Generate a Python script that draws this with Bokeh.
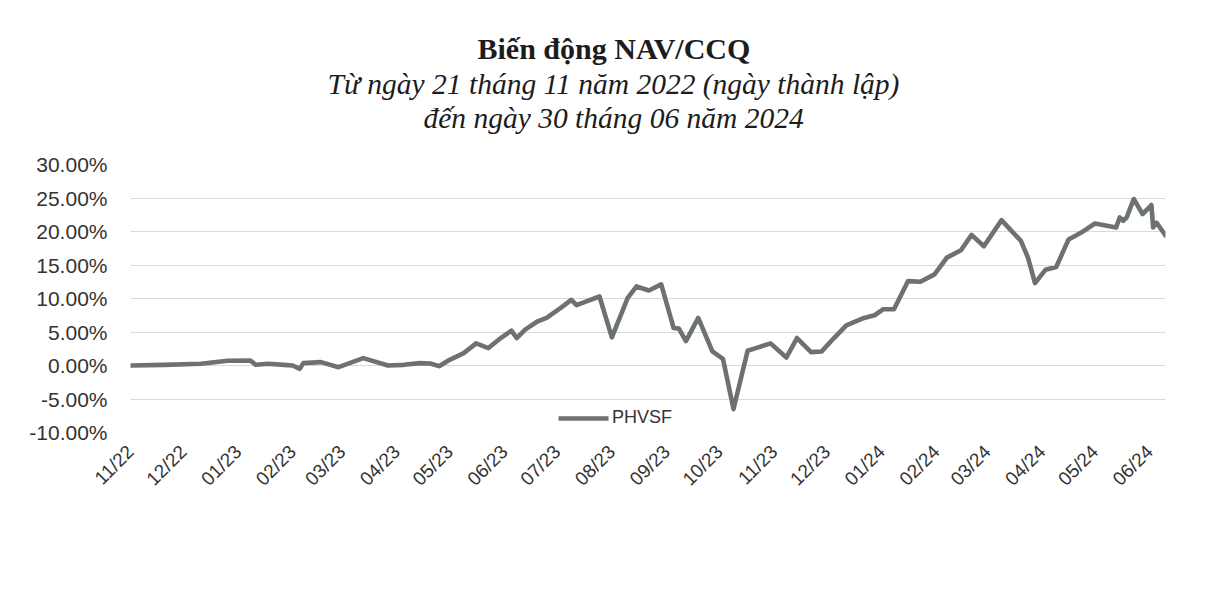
import datetime as dt
from bokeh.plotting import figure
from bokeh.models import (Range1d, FixedTicker, NumeralTickFormatter, Title,
                          Legend, LegendItem, ColumnDataSource)
from bokeh.embed import file_html
from bokeh.resources import INLINE

# ---- data ----
dates = [
    "2022-11-21", "2022-12-10", "2022-12-31", "2023-01-15", "2023-01-28", "2023-01-31",
    "2023-02-07", "2023-02-16", "2023-02-21", "2023-02-25", "2023-02-27", "2023-03-09",
    "2023-03-19", "2023-04-02", "2023-04-16", "2023-04-25", "2023-05-04", "2023-05-10",
    "2023-05-15", "2023-05-21", "2023-05-29", "2023-06-05", "2023-06-12", "2023-06-19",
    "2023-06-25", "2023-06-28", "2023-07-03", "2023-07-10", "2023-07-15", "2023-07-23",
    "2023-07-29", "2023-08-01", "2023-08-07", "2023-08-14", "2023-08-21", "2023-08-30",
    "2023-09-04", "2023-09-11", "2023-09-18", "2023-09-25", "2023-09-28", "2023-10-02",
    "2023-10-09", "2023-10-17", "2023-10-23", "2023-10-29", "2023-11-06", "2023-11-12",
    "2023-11-19", "2023-11-28", "2023-12-04", "2023-12-12", "2023-12-18", "2023-12-25",
    "2024-01-01", "2024-01-11", "2024-01-17", "2024-01-22", "2024-01-28", "2024-02-05",
    "2024-02-12", "2024-02-20", "2024-02-27", "2024-03-06", "2024-03-12", "2024-03-19",
    "2024-03-29", "2024-04-09", "2024-04-13", "2024-04-17", "2024-04-23", "2024-04-29",
    "2024-05-06", "2024-05-13", "2024-05-21", "2024-06-02", "2024-06-04", "2024-06-06",
    "2024-06-08", "2024-06-12", "2024-06-17", "2024-06-22", "2024-06-23", "2024-06-25",
    "2024-06-30",
]
phvsf_pct = [
    0.0, 0.1, 0.25, 0.7, 0.75, 0.1,
    0.25, 0.1, 0.0, -0.5, 0.35, 0.5,
    -0.25, 1.1, 0.0, 0.1, 0.35, 0.3,
    -0.1, 0.85, 1.85, 3.3, 2.6, 4.1,
    5.2, 4.1, 5.4, 6.6, 7.1, 8.6,
    9.8, 9.0, 9.6, 10.3, 4.2, 10.1,
    11.8, 11.2, 12.1, 5.6, 5.5, 3.65,
    7.1, 2.1, 1.0, -6.5, 2.2, 2.7,
    3.3, 1.2, 4.1, 2.0, 2.1, 4.1,
    6.0, 7.1, 7.5, 8.4, 8.4, 12.6,
    12.5, 13.6, 16.1, 17.2, 19.5, 17.8,
    21.7, 18.6, 16.1, 12.3, 14.3, 14.7,
    18.8, 19.8, 21.2, 20.6, 22.1, 21.6,
    22.1, 24.85, 22.6, 23.95, 20.6, 21.3,
    19.4,
]
tick_dates = [
    "2022-11-21", "2022-12-21", "2023-01-21", "2023-02-21", "2023-03-21", "2023-04-21",
    "2023-05-21", "2023-06-21", "2023-07-21", "2023-08-21", "2023-09-21", "2023-10-21",
    "2023-11-21", "2023-12-21", "2024-01-21", "2024-02-21", "2024-03-21", "2024-04-21",
    "2024-05-21", "2024-06-21",
]
tick_labels = [
    "11/22", "12/22", "01/23", "02/23", "03/23", "04/23", "05/23", "06/23", "07/23",
    "08/23", "09/23", "10/23", "11/23", "12/23", "01/24", "02/24", "03/24", "04/24",
    "05/24", "06/24",
]
y_ticks_pct = [-10, -5, 0, 5, 10, 15, 20, 25, 30]
series_name = "PHVSF"
title_1 = "Biến động NAV/CCQ"
title_2 = "Từ ngày 21 tháng 11 năm 2022 (ngày thành lập)"
title_3 = "đến ngày 30 tháng 06 năm 2024"

# ---- helpers ----
EPOCH = dt.datetime(1970, 1, 1)


def to_dt(s):
    return dt.datetime.strptime(s, "%Y-%m-%d")


def to_ms(s):
    return int((to_dt(s) - EPOCH).total_seconds() * 1000)


src = ColumnDataSource(dict(
    x=[to_dt(d) for d in dates],
    y=[v / 100.0 for v in phvsf_pct],
))

SERIF = "Liberation Serif"
SANS = "Liberation Sans"

p = figure(
    width=1203, height=576,
    frame_width=1035, frame_height=268,
    x_axis_type="datetime",
    x_range=Range1d(to_dt(dates[0]), to_dt(dates[-1])),
    y_range=Range1d(y_ticks_pct[0] / 100.0, y_ticks_pct[-1] / 100.0),
    output_backend="svg", toolbar_location=None,
    min_border_left=130, min_border_right=38,
    min_border_top=164, min_border_bottom=144,
    background_fill_color="white", border_fill_color="white",
)
p.outline_line_color = None

# titles (added innermost first), left aligned with pixel offsets from frame left
for txt, style, size, standoff, off in [
    (title_3, "italic", "29.5px", 62, 293),
    (title_2, "italic", "29.5px", -63, 197),
    (title_1, "bold", "30px", 7, 347),
]:
    p.add_layout(Title(text=txt, text_font=SERIF, text_font_style=style,
                       text_font_size=size, text_color="#1c1c1c",
                       align="left", offset=off, standoff=standoff), "above")

r = p.line("x", "y", source=src, line_width=4.6, line_color="#6c736f",
           line_join="round", line_cap="round")

# y axis
p.yaxis.ticker = FixedTicker(ticks=[t / 100.0 for t in y_ticks_pct])
p.yaxis.formatter = NumeralTickFormatter(format="0.00%")
p.yaxis.axis_line_color = None
p.yaxis.major_tick_line_color = None
p.yaxis.minor_tick_line_color = None
p.yaxis.major_label_standoff = 17
p.yaxis.major_label_text_font = SANS
p.yaxis.major_label_text_font_size = "21px"
p.yaxis.major_label_text_color = "#333333"

# x axis
xt = [to_ms(d) for d in tick_dates]
p.xaxis.ticker = FixedTicker(ticks=xt)
p.xaxis.major_label_overrides = {t: lab for t, lab in zip(xt, tick_labels)}
p.xaxis.major_label_orientation = 0.785398
p.xaxis.axis_line_color = None
p.xaxis.major_tick_line_color = None
p.xaxis.minor_tick_line_color = None
p.xaxis.major_label_standoff = 10
p.xaxis.major_label_text_font = SANS
p.xaxis.major_label_text_font_size = "19px"
p.xaxis.major_label_text_color = "#333333"

# grid
p.xgrid.grid_line_color = None
p.ygrid.grid_line_color = "#d9d9d9"
p.ygrid.grid_line_width = 1

legend = Legend(items=[LegendItem(label=series_name, renderers=[r])],
                location="bottom_center", orientation="horizontal",
                glyph_width=50, glyph_height=18, label_standoff=4,
                label_width=125,
                padding=0, margin=4, border_line_color=None,
                background_fill_alpha=0,
                label_text_font=SANS, label_text_font_size="18px",
                label_text_color="#333333")
p.add_layout(legend)

open("out.html", "w").write(file_html(p, INLINE))
